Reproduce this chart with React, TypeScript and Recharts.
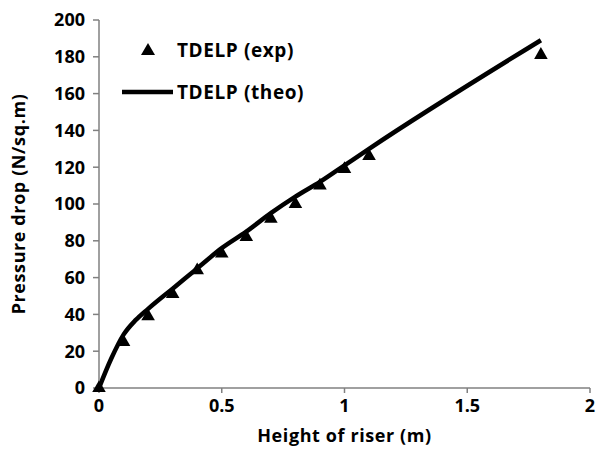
import { ComposedChart, Line, Scatter, XAxis, YAxis, ZAxis, Label } from 'recharts';

// experimental points (triangles)
const expX = [0, 0.1, 0.2, 0.3, 0.4, 0.5, 0.6, 0.7, 0.8, 0.9, 1.0, 1.1, 1.8];
const expY = [0, 25, 39, 51, 64, 73, 82, 92, 100, 110, 119, 126, 181];

// theoretical curve
const theoX = [0, 0.05, 0.1, 0.15, 0.2, 0.3, 0.4, 0.5, 0.6, 0.7, 0.8, 0.9, 1.0, 1.1, 1.8];
const theoY = [0, 16, 29, 37, 43, 54, 65, 76, 85, 95, 104, 112, 121, 130, 189];

const xTicks = [0, 0.5, 1, 1.5, 2];
const yTicks = [0, 20, 40, 60, 80, 100, 120, 140, 160, 180, 200];

const expData = expX.map((x, i) => ({ x, y: expY[i] }));
const theoData = theoX.map((x, i) => ({ x, y: theoY[i] }));

const font = '"Open Sans", sans-serif';
const axisGrey = '#808080';

function ChartLegend() {
  return (
    <div
      style={{
        position: 'absolute',
        left: 122,
        top: 29,
        fontFamily: font,
        fontWeight: 700,
        fontSize: 19,
        letterSpacing: 0.6,
        color: '#000',
        lineHeight: 1,
      }}
    >
      <div style={{ display: 'flex', alignItems: 'center', height: 42 }}>
        <svg width={55} height={20} style={{ display: 'block' }}>
          <polygon points="26,3 33,15 19,15" fill="#000" />
        </svg>
        <span>TDELP (exp)</span>
      </div>
      <div style={{ display: 'flex', alignItems: 'center', height: 42 }}>
        <svg width={55} height={20} style={{ display: 'block' }}>
          <line x1={0} y1={10} x2={51} y2={10} stroke="#000" strokeWidth={4.5} />
        </svg>
        <span>TDELP (theo)</span>
      </div>
    </div>
  );
}

const tickStyle = { fill: '#000', fontFamily: font, fontWeight: 700, fontSize: 18 };

export default function App() {
  return (
    <div style={{ position: 'absolute', left: 0, top: 0, width: 596, height: 449, background: '#fff' }}>
      <ComposedChart width={596} height={449} margin={{ top: 20, right: 6, left: 0, bottom: 0 }}>
        <XAxis
          type="number"
          dataKey="x"
          domain={[0, 2]}
          ticks={xTicks}
          height={61}
          tickSize={5}
          tickMargin={6}
          stroke={axisGrey}
          strokeWidth={1.5}
          tick={tickStyle}
        >
          <Label
            content={({ viewBox }: any) => (
              <text
                x={viewBox.x + viewBox.width / 2}
                y={442}
                textAnchor="middle"
                fontFamily={font}
                fontWeight={700}
                fontSize={18}
                letterSpacing={0.6}
                fill="#000"
              >
                Height of riser (m)
              </text>
            )}
          />
        </XAxis>
        <YAxis
          type="number"
          domain={[0, 200]}
          ticks={yTicks}
          width={99}
          tickSize={6}
          tickMargin={8}
          stroke={axisGrey}
          strokeWidth={1.5}
          tick={tickStyle}
        >
          <Label
            content={({ viewBox }: any) => {
              const cy = viewBox.y + viewBox.height / 2;
              return (
                <text
                  x={18}
                  y={cy}
                  transform={`rotate(-90, 18, ${cy})`}
                  textAnchor="middle"
                  dominantBaseline="central"
                  fontFamily={font}
                  fontWeight={700}
                  fontSize={18}
                  letterSpacing={0.6}
                  fill="#000"
                >
                  Pressure drop (N/sq.m)
                </text>
              );
            }}
          />
        </YAxis>
        <ZAxis range={[80, 80]} />
        <Line
          data={theoData}
          dataKey="y"
          name="TDELP (theo)"
          stroke="#000"
          strokeWidth={4.5}
          dot={false}
          activeDot={false}
          type="monotone"
          isAnimationActive={false}
        />
        <Scatter
          data={expData}
          dataKey="y"
          name="TDELP (exp)"
          fill="#000"
          shape="triangle"
          isAnimationActive={false}
        />
      </ComposedChart>
      <ChartLegend />
    </div>
  );
}
